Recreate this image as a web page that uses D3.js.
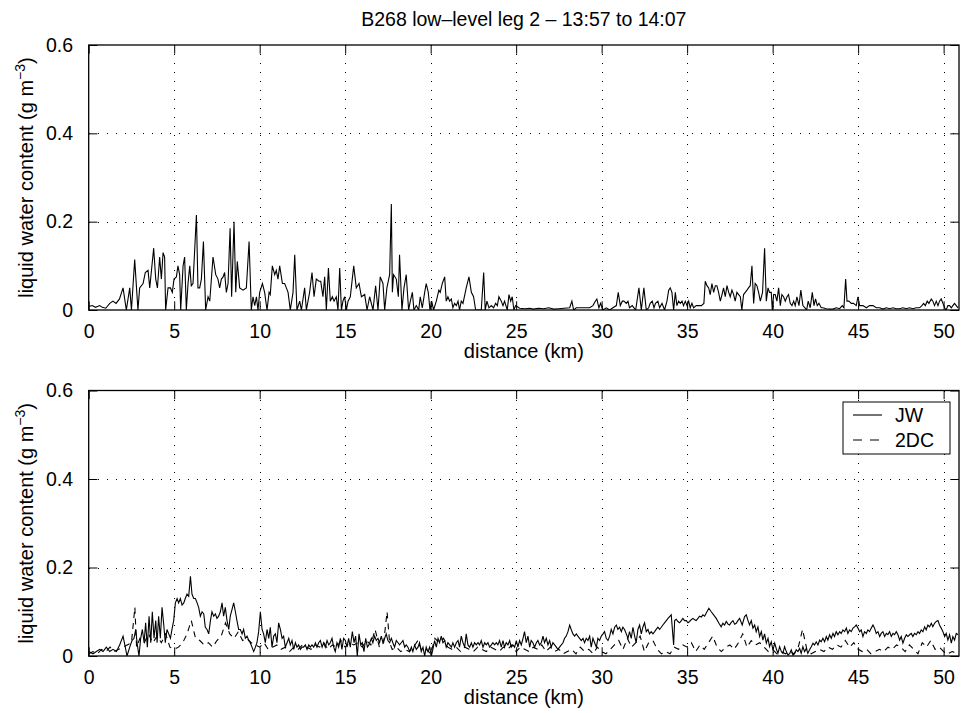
<!DOCTYPE html>
<html><head><meta charset="utf-8">
<script src="https://cdn.jsdelivr.net/npm/d3@7"></script>
<style>
html,body{margin:0;padding:0;background:#fff;}
svg text{font-family:"Liberation Sans",Arial,Helvetica,sans-serif;fill:#000;}
</style></head>
<body><svg id="chart" width="972" height="713"></svg>
<script>
const titleText = "B268 low\u2013level leg 2 \u2013 13:57 to 14:07";
const xTicks = [0,5,10,15,20,25,30,35,40,45,50];
const yTicks = [0,0.2,0.4,0.6];
const xLabelText = "distance (km)";
const legendNames = ["JW","2DC"];

// upper panel: JW liquid water content
const topKm = [0,0.2,0.4,0.64,0.8,1.0,1.23,1.42,1.6,1.8,2.01,2.2,2.4,2.5,2.69,2.88,2.98,3.18,3.31,3.47,3.57,3.8,3.92,4.02,4.15,4.25,4.35,4.44,4.5,4.64,4.78,4.89,4.99,5.13,5.22,5.32,5.38,5.52,5.61,5.71,5.81,5.91,6.0,6.1,6.3,6.39,6.49,6.59,6.71,6.84,6.98,7.08,7.27,7.43,7.56,7.66,7.76,7.86,7.95,8.05,8.15,8.27,8.36,8.5,8.6,8.69,8.83,9.03,9.22,9.38,9.51,9.61,9.71,9.81,9.9,10.0,10.16,10.29,10.43,10.55,10.62,10.74,10.88,10.97,11.07,11.17,11.33,11.46,11.56,11.66,11.79,11.95,12.05,12.18,12.34,12.44,12.63,12.73,12.92,13.06,13.18,13.31,13.47,13.57,13.7,13.8,13.9,14.02,14.13,14.25,14.35,14.48,14.58,14.68,14.78,14.87,14.97,15.07,15.17,15.3,15.5,15.65,15.81,15.95,16.14,16.28,16.43,16.63,16.78,16.92,17.05,17.21,17.31,17.44,17.6,17.7,17.76,17.83,17.99,18.11,18.18,18.32,18.44,18.57,18.71,18.81,18.93,19.02,19.16,19.3,19.39,19.51,19.65,19.74,19.86,19.96,20.06,20.17,20.33,20.48,20.56,20.68,20.82,20.91,21.01,21.11,21.21,21.3,21.4,21.5,21.6,21.69,21.79,21.89,22.08,22.24,22.38,22.51,22.63,22.77,22.96,23.1,23.19,23.29,23.41,23.55,23.68,23.8,23.9,23.99,24.13,24.23,24.32,24.48,24.58,24.68,24.77,24.87,24.97,25.2,25.5,25.8,26.0,26.3,26.6,26.9,27.2,27.5,27.8,28.13,28.26,28.36,28.52,28.91,29.3,29.49,29.63,29.72,29.84,29.94,30.08,30.27,30.47,30.66,30.86,30.97,31.09,31.21,31.3,31.44,31.54,31.63,31.79,31.89,31.99,32.18,32.32,32.47,32.61,32.75,32.84,32.96,33.06,33.15,33.29,33.39,33.53,33.68,33.82,33.92,34.01,34.11,34.21,34.31,34.4,34.5,34.6,34.7,34.79,34.89,34.99,35.09,35.18,35.28,35.38,35.53,35.69,35.83,35.98,36.06,36.16,36.26,36.35,36.45,36.55,36.65,36.74,36.84,36.94,37.04,37.13,37.23,37.33,37.43,37.52,37.62,37.72,37.81,37.91,38.01,38.11,38.2,38.3,38.4,38.5,38.59,38.69,38.79,38.89,38.98,39.08,39.18,39.28,39.41,39.53,39.63,39.73,39.82,39.92,39.98,40.06,40.15,40.25,40.35,40.45,40.54,40.64,40.74,40.84,40.93,41.03,41.13,41.23,41.32,41.42,41.54,41.65,41.77,41.89,41.99,42.08,42.2,42.32,42.42,42.51,42.61,42.71,42.84,42.94,43.14,43.33,43.53,43.72,43.92,44.07,44.17,44.27,44.35,44.46,44.6,44.73,44.89,44.99,45.09,45.28,45.48,45.67,45.87,46.06,46.26,46.45,46.65,46.84,47.04,47.23,47.43,47.62,47.82,48.01,48.2,48.4,48.59,48.73,48.83,48.93,49.04,49.14,49.28,49.37,49.47,49.57,49.67,49.76,49.86,49.96,50.06,50.15,50.25,50.35,50.45,50.54,50.64,50.74,50.84];
const topLwc = [0.008,0.01,0.006,0.01,0.006,0.004,0.015,0.02,0.015,0.025,0.05,0.0,0.05,0.0,0.114,0.0,0.05,0.06,0.085,0.09,0.05,0.14,0.07,0.05,0.12,0.07,0.13,0.12,0.0,0.05,0.05,0.04,0.07,0.075,0.1,0.08,0.0,0.1,0.12,0.0,0.06,0.1,0.055,0.06,0.215,0.05,0.05,0.07,0.155,0.0,0.03,0.02,0.12,0.08,0.07,0.05,0.07,0.075,0.085,0.04,0.06,0.185,0.03,0.2,0.04,0.11,0.05,0.045,0.05,0.155,0.0,0.03,0.01,0.03,0.0,0.04,0.06,0.04,0.0,0.04,0.035,0.1,0.08,0.09,0.07,0.1,0.06,0.06,0.05,0.04,0.0,0.04,0.125,0.0,0.02,0.0,0.05,0.0,0.04,0.085,0.03,0.07,0.065,0.065,0.03,0.075,0.0,0.095,0.02,0.03,0.02,0.03,0.0,0.095,0.0,0.02,0.03,0.0,0.02,0.03,0.1,0.05,0.06,0.03,0.035,0.0,0.03,0.0,0.055,0.0,0.075,0.06,0.0,0.05,0.08,0.24,0.04,0.08,0.07,0.03,0.125,0.0,0.05,0.08,0.0,0.02,0.04,0.0,0.01,0.0,0.03,0.005,0.04,0.06,0.04,0.0,0.02,0.0,0.02,0.045,0.04,0.06,0.075,0.02,0.03,0.02,0.025,0.005,0.015,0.01,0.02,0.0,0.02,0.015,0.05,0.075,0.04,0.03,0.0,0.0,0.0,0.085,0.0,0.02,0.005,0.01,0.005,0.015,0.01,0.03,0.02,0.01,0.02,0.0,0.035,0.02,0.03,0.0,0.01,0.004,0.003,0.004,0.002,0.004,0.003,0.005,0.002,0.003,0.004,0.005,0.02,0.0,0.005,0.005,0.005,0.01,0.02,0.025,0.005,0.015,0.0,0.005,0.0,0.005,0.01,0.04,0.01,0.02,0.02,0.015,0.02,0.005,0.01,0.005,0.0,0.05,0.0,0.05,0.0,0.005,0.015,0.02,0.005,0.015,0.02,0.005,0.015,0.0,0.02,0.045,0.05,0.04,0.0,0.04,0.01,0.02,0.015,0.02,0.01,0.02,0.01,0.02,0.005,0.015,0.005,0.01,0.01,0.01,0.015,0.065,0.055,0.05,0.035,0.06,0.04,0.055,0.055,0.04,0.02,0.035,0.05,0.03,0.055,0.04,0.03,0.045,0.035,0.02,0.04,0.035,0.03,0.0,0.035,0.04,0.045,0.05,0.055,0.1,0.015,0.06,0.055,0.04,0.02,0.04,0.14,0.02,0.05,0.04,0.04,0.0,0.035,0.035,0.02,0.05,0.01,0.035,0.03,0.02,0.03,0.035,0.015,0.01,0.02,0.01,0.03,0.01,0.045,0.01,0.005,0.0,0.02,0.005,0.04,0.01,0.025,0.01,0.015,0.005,0.005,0.003,0.002,0.002,0.005,0.003,0.01,0.005,0.07,0.02,0.02,0.015,0.015,0.01,0.03,0.01,0.01,0.005,0.01,0.01,0.005,0.005,0.002,0.005,0.003,0.005,0.003,0.003,0.005,0.003,0.005,0.003,0.005,0.005,0.01,0.015,0.01,0.02,0.015,0.025,0.02,0.01,0.02,0.01,0.02,0.025,0.015,0.005,0.0,0.01,0.01,0.005,0.01,0.015,0.01,0.005];

// lower panel: JW probe
const jwKm = [0,0.25,0.45,0.64,0.84,1.03,1.23,1.42,1.62,1.81,2.01,2.14,2.24,2.4,2.53,2.65,2.75,2.83,2.94,3.04,3.14,3.24,3.33,3.43,3.53,3.63,3.72,3.82,3.92,4.0,4.09,4.19,4.29,4.39,4.48,4.58,4.68,4.78,4.87,4.97,5.07,5.17,5.26,5.36,5.46,5.56,5.65,5.75,5.85,5.95,6.04,6.14,6.24,6.34,6.43,6.53,6.63,6.73,6.82,6.92,7.02,7.12,7.21,7.31,7.41,7.5,7.6,7.7,7.8,7.89,7.99,8.09,8.19,8.28,8.38,8.48,8.58,8.67,8.77,8.87,8.97,9.06,9.16,9.26,9.36,9.45,9.55,9.65,9.75,9.84,9.94,10.04,10.14,10.23,10.33,10.43,10.53,10.62,10.72,10.82,10.92,11.01,11.11,11.21,11.31,11.4,11.5,11.6,11.7,11.79,11.89,11.99,12.09,12.18,12.28,12.38,12.48,12.57,12.67,12.77,12.87,12.96,13.06,13.16,13.26,13.35,13.45,13.55,13.65,13.74,13.84,13.94,14.04,14.13,14.23,14.33,14.42,14.52,14.62,14.72,14.81,14.91,15.01,15.11,15.2,15.3,15.42,15.52,15.61,15.71,15.81,15.91,16.0,16.1,16.2,16.3,16.39,16.53,16.62,16.72,16.82,16.92,17.01,17.11,17.21,17.31,17.4,17.5,17.6,17.7,17.79,17.89,17.99,18.09,18.18,18.28,18.38,18.48,18.57,18.67,18.77,18.87,18.96,19.06,19.16,19.26,19.35,19.45,19.55,19.65,19.74,19.84,19.94,20.04,20.13,20.23,20.33,20.43,20.52,20.62,20.72,20.82,20.91,21.01,21.11,21.21,21.3,21.4,21.5,21.6,21.69,21.79,21.89,21.99,22.08,22.18,22.28,22.38,22.47,22.57,22.67,22.77,22.86,22.96,23.06,23.16,23.25,23.35,23.45,23.55,23.64,23.74,23.84,23.93,24.03,24.13,24.23,24.32,24.42,24.52,24.62,24.71,24.81,24.91,25.01,25.1,25.2,25.3,25.4,25.49,25.59,25.69,25.79,25.88,25.98,26.08,26.18,26.27,26.37,26.47,26.57,26.66,26.76,26.86,26.96,27.05,27.15,27.25,27.35,27.44,27.54,27.64,27.74,27.83,27.93,28.03,28.13,28.22,28.32,28.42,28.52,28.61,28.71,28.81,28.91,29.0,29.1,29.2,29.3,29.39,29.49,29.59,29.69,29.78,29.88,29.98,30.08,30.17,30.27,30.37,30.47,30.56,30.66,30.76,30.86,30.95,31.05,31.15,31.24,31.34,31.44,31.54,31.63,31.73,31.83,31.93,32.02,32.12,32.22,32.32,32.41,32.51,32.61,32.71,32.8,32.9,33.0,33.1,33.19,33.29,33.39,33.49,33.58,33.68,33.78,33.88,34.07,34.21,34.27,34.36,34.46,34.56,34.66,34.75,34.85,34.95,35.05,35.14,35.24,35.34,35.44,35.53,35.63,35.73,35.83,35.92,36.02,36.12,36.27,36.41,36.55,36.7,36.86,36.99,37.09,37.19,37.29,37.39,37.48,37.58,37.68,37.78,37.87,37.97,38.07,38.22,38.36,38.46,38.56,38.65,38.75,38.85,38.95,39.04,39.14,39.24,39.34,39.43,39.53,39.63,39.73,39.82,39.92,40.02,40.12,40.21,40.31,40.41,40.51,40.6,40.7,40.8,40.9,41.0,41.09,41.19,41.29,41.38,41.48,41.58,41.67,41.77,41.87,41.97,42.06,42.16,42.26,42.36,42.45,42.55,42.65,42.75,42.84,42.94,43.04,43.14,43.23,43.33,43.43,43.53,43.62,43.72,43.82,43.92,44.01,44.11,44.21,44.31,44.4,44.5,44.6,44.7,44.79,44.89,44.99,45.09,45.18,45.28,45.38,45.48,45.57,45.67,45.77,45.87,45.96,46.06,46.16,46.26,46.35,46.45,46.55,46.65,46.74,46.84,46.94,47.04,47.13,47.23,47.33,47.43,47.52,47.62,47.72,47.82,47.91,48.01,48.11,48.2,48.3,48.4,48.5,48.59,48.69,48.79,48.89,48.98,49.08,49.18,49.28,49.37,49.47,49.57,49.67,49.76,49.86,49.96,50.06,50.15,50.25,50.35,50.45,50.54,50.64,50.74,50.84];
const jwLwc = [0.01,0.005,0.01,0.015,0.01,0.02,0.01,0.015,0.01,0.025,0.045,0.02,0.0,0.02,0.035,0.04,0.06,0.03,0.0,0.04,0.06,0.03,0.075,0.02,0.09,0.03,0.1,0.04,0.08,0.03,0.09,0.04,0.11,0.07,0.03,0.06,0.05,0.04,0.06,0.08,0.12,0.13,0.12,0.13,0.115,0.12,0.13,0.14,0.135,0.18,0.14,0.13,0.13,0.12,0.11,0.09,0.1,0.095,0.065,0.06,0.05,0.08,0.1,0.09,0.095,0.085,0.09,0.1,0.12,0.09,0.11,0.08,0.06,0.09,0.105,0.12,0.1,0.08,0.06,0.06,0.05,0.06,0.04,0.045,0.035,0.03,0.02,0.01,0.02,0.03,0.055,0.1,0.06,0.05,0.03,0.06,0.04,0.065,0.02,0.045,0.05,0.03,0.075,0.06,0.04,0.045,0.02,0.03,0.04,0.025,0.035,0.015,0.03,0.02,0.025,0.015,0.02,0.02,0.025,0.015,0.025,0.02,0.025,0.02,0.03,0.02,0.03,0.035,0.02,0.03,0.02,0.035,0.025,0.03,0.04,0.02,0.01,0.03,0.02,0.04,0.015,0.04,0.035,0.02,0.04,0.02,0.055,0.03,0.045,0.0,0.05,0.025,0.03,0.01,0.04,0.02,0.025,0.04,0.03,0.045,0.035,0.04,0.03,0.045,0.03,0.04,0.05,0.035,0.03,0.04,0.03,0.02,0.035,0.03,0.025,0.03,0.035,0.02,0.025,0.02,0.01,0.02,0.01,0.025,0.015,0.02,0.03,0.01,0.02,0.0,0.02,0.01,0.02,0.0,0.015,0.035,0.02,0.04,0.03,0.045,0.03,0.035,0.02,0.03,0.025,0.02,0.03,0.02,0.03,0.035,0.02,0.045,0.03,0.02,0.05,0.025,0.02,0.03,0.02,0.03,0.025,0.03,0.025,0.035,0.02,0.03,0.025,0.03,0.02,0.025,0.03,0.025,0.03,0.025,0.035,0.02,0.035,0.02,0.03,0.025,0.035,0.02,0.025,0.02,0.035,0.02,0.035,0.025,0.04,0.055,0.03,0.045,0.02,0.035,0.03,0.02,0.03,0.035,0.025,0.03,0.045,0.03,0.04,0.025,0.035,0.02,0.03,0.025,0.02,0.015,0.02,0.025,0.03,0.04,0.045,0.055,0.07,0.06,0.05,0.045,0.05,0.045,0.04,0.035,0.04,0.03,0.04,0.035,0.045,0.02,0.04,0.03,0.02,0.04,0.035,0.045,0.05,0.055,0.04,0.035,0.045,0.06,0.05,0.065,0.07,0.06,0.065,0.055,0.065,0.06,0.05,0.04,0.055,0.04,0.065,0.045,0.03,0.06,0.07,0.05,0.065,0.075,0.055,0.06,0.05,0.055,0.05,0.055,0.06,0.065,0.06,0.065,0.07,0.075,0.08,0.085,0.093,0.025,0.08,0.083,0.078,0.075,0.08,0.085,0.08,0.08,0.075,0.078,0.082,0.085,0.082,0.08,0.085,0.09,0.088,0.093,0.09,0.097,0.108,0.1,0.093,0.085,0.074,0.066,0.074,0.07,0.078,0.072,0.07,0.076,0.08,0.072,0.074,0.08,0.085,0.07,0.089,0.093,0.08,0.07,0.08,0.063,0.07,0.055,0.066,0.044,0.055,0.036,0.05,0.029,0.04,0.021,0.032,0.014,0.029,0.017,0.006,0.021,0.01,0.006,0.021,0.01,0.002,0.006,0.014,0.002,0.006,0.014,0.01,0.017,0.006,0.021,0.01,0.017,0.006,0.014,0.021,0.029,0.025,0.032,0.025,0.036,0.032,0.04,0.032,0.044,0.036,0.048,0.04,0.051,0.044,0.055,0.048,0.055,0.051,0.059,0.055,0.063,0.051,0.059,0.055,0.063,0.066,0.07,0.063,0.055,0.059,0.044,0.055,0.051,0.059,0.055,0.063,0.07,0.063,0.051,0.055,0.044,0.051,0.055,0.044,0.051,0.048,0.055,0.044,0.051,0.048,0.055,0.048,0.036,0.044,0.029,0.04,0.048,0.044,0.048,0.051,0.044,0.051,0.048,0.055,0.051,0.059,0.055,0.066,0.059,0.07,0.066,0.074,0.066,0.074,0.078,0.08,0.07,0.063,0.055,0.044,0.051,0.036,0.048,0.029,0.044,0.036,0.051,0.048];

// lower panel: 2DC probe
const dcKm = [0,0.25,0.5,0.75,1.0,1.25,1.5,1.75,2.0,2.25,2.5,2.7,2.8,3.0,3.25,3.5,3.75,4.0,4.25,4.5,4.75,5.0,5.25,5.5,5.75,6.0,6.25,6.5,6.75,7.0,7.25,7.5,7.75,8.0,8.25,8.5,8.75,9.0,9.25,9.5,9.75,10.0,10.25,10.5,10.75,11.0,11.25,11.5,11.75,12.0,12.25,12.5,12.75,13.0,13.25,13.5,13.75,14.0,14.25,14.5,14.75,15.0,15.25,15.5,15.75,16.0,16.25,16.5,16.75,17.0,17.25,17.45,17.6,17.75,18.0,18.25,18.5,18.75,19.0,19.25,19.5,19.75,20.0,20.25,20.5,20.75,21.0,21.25,21.5,21.75,22.0,22.25,22.5,22.75,23.0,23.25,23.5,23.75,24.0,24.25,24.5,24.75,25.0,25.25,25.5,25.75,26.0,26.25,26.5,26.75,27.0,27.25,27.5,27.75,28.0,28.25,28.5,28.75,29.0,29.25,29.5,29.75,30.0,30.25,30.5,30.75,31.0,31.25,31.5,31.75,32.0,32.25,32.5,32.75,33.0,33.25,33.5,33.75,34.0,34.25,34.5,34.75,35.0,35.25,35.5,35.75,36.0,36.25,36.5,36.75,37.0,37.25,37.5,37.75,38.0,38.25,38.5,38.75,39.0,39.25,39.5,39.75,40.0,40.25,40.5,40.75,41.0,41.25,41.5,41.75,42.0,42.25,42.5,42.75,43.0,43.25,43.5,43.75,44.0,44.25,44.5,44.75,45.0,45.25,45.5,45.75,46.0,46.25,46.5,46.75,47.0,47.25,47.5,47.75,48.0,48.25,48.5,48.75,49.0,49.25,49.5,49.75,50.0,50.25,50.5,50.85];
const dcLwc = [0.005,0.01,0.005,0.015,0.01,0.02,0.01,0.015,0.02,0.025,0.03,0.11,0.02,0.04,0.03,0.05,0.03,0.045,0.03,0.05,0.02,0.015,0.02,0.03,0.05,0.08,0.04,0.035,0.025,0.03,0.02,0.035,0.045,0.075,0.05,0.04,0.055,0.035,0.04,0.03,0.025,0.02,0.03,0.015,0.02,0.025,0.015,0.02,0.01,0.02,0.015,0.025,0.02,0.015,0.025,0.02,0.03,0.015,0.025,0.02,0.035,0.02,0.03,0.025,0.03,0.02,0.035,0.025,0.06,0.02,0.03,0.1,0.03,0.015,0.02,0.01,0.015,0.01,0.02,0.035,0.01,0.015,0.005,0.04,0.03,0.04,0.02,0.015,0.02,0.01,0.02,0.015,0.01,0.02,0.015,0.01,0.02,0.015,0.01,0.02,0.015,0.025,0.01,0.02,0.015,0.01,0.02,0.015,0.025,0.01,0.02,0.01,0.015,0.005,0.01,0.015,0.005,0.02,0.01,0.015,0.005,0.02,0.01,0.005,0.015,0.025,0.035,0.015,0.04,0.02,0.03,0.045,0.01,0.03,0.035,0.015,0.005,0.01,0.005,0.02,0.015,0.025,0.02,0.03,0.01,0.025,0.015,0.03,0.045,0.02,0.01,0.02,0.025,0.015,0.03,0.05,0.02,0.035,0.025,0.03,0.02,0.01,0.015,0.005,0.01,0.005,0.01,0.005,0.02,0.06,0.015,0.005,0.01,0.015,0.01,0.02,0.015,0.025,0.02,0.035,0.02,0.03,0.015,0.01,0.015,0.005,0.01,0.015,0.01,0.02,0.015,0.025,0.02,0.01,0.025,0.015,0.005,0.03,0.02,0.035,0.015,0.02,0.01,0.005,0.01,0.005];

const svg = d3.select("#chart");
const X0 = 88.7, X1 = 959;
const xDomainMax = 50.9;
const panels = [
  {top:45, bottom:310, series:[{km:topKm, v:topLwc, dash:null}], legend:false},
  {top:390.5, bottom:656, series:[{km:jwKm, v:jwLwc, dash:null},{km:dcKm, v:dcLwc, dash:"6,5"}], legend:true}
];
const tickLen = 8.7;
const fontSize = 19.5;

svg.append("text").attr("x",(X0+X1)/2).attr("y",26).attr("text-anchor","middle")
  .attr("font-size",fontSize).text(titleText);

panels.forEach((p,i)=>{
  const x = d3.scaleLinear().domain([0,xDomainMax]).range([X0,X1]);
  const y = d3.scaleLinear().domain([0,0.6]).range([p.bottom,p.top]);
  const g = svg.append("g");
  const clipId = "clip"+i;
  svg.append("clipPath").attr("id",clipId).append("rect")
    .attr("x",X0).attr("y",p.top).attr("width",X1-X0).attr("height",p.bottom-p.top);

  // grid
  const grid = g.append("g").attr("stroke","#000").attr("stroke-width",1)
    .attr("stroke-dasharray","1,8").attr("shape-rendering","crispEdges");
  xTicks.forEach(t=>{ if(t>0) grid.append("line").attr("x1",Math.round(x(t))+0.5).attr("x2",Math.round(x(t))+0.5).attr("y1",p.top).attr("y2",p.bottom); });
  yTicks.forEach(t=>{ if(t>0 && t<0.6) grid.append("line").attr("y1",Math.round(y(t))+0.5).attr("y2",Math.round(y(t))+0.5).attr("x1",X0).attr("x2",X1); });

  // data
  const line = d3.line().x(d=>x(d[0])).y(d=>y(d[1]));
  p.series.forEach(s=>{
    const pts = s.km.map((k,j)=>[k,s.v[j]]);
    const path = g.append("path").attr("clip-path","url(#"+clipId+")").datum(pts).attr("d",line)
      .attr("fill","none").attr("stroke","#000").attr("stroke-width",1.1).attr("stroke-linejoin","miter");
    if(s.dash) path.attr("stroke-dasharray",s.dash);
  });

  // axes
  const fmtY = d => d===0 ? "0" : d3.format(".1f")(d);
  const xb = d3.axisBottom(x).tickValues(xTicks).tickSizeInner(-tickLen).tickSizeOuter(0).tickPadding(tickLen+5).tickFormat(d3.format("d"));
  const xt = d3.axisTop(x).tickValues(xTicks).tickSizeInner(-tickLen).tickSizeOuter(0).tickFormat("");
  const yl = d3.axisLeft(y).tickValues(yTicks).tickSizeInner(-tickLen).tickSizeOuter(0).tickPadding(tickLen+7).tickFormat(fmtY);
  const yr = d3.axisRight(y).tickValues(yTicks).tickSizeInner(-tickLen).tickSizeOuter(0).tickFormat("");
  const axes = [
    g.append("g").attr("transform",`translate(0,${p.bottom})`).call(xb),
    g.append("g").attr("transform",`translate(0,${p.top})`).call(xt),
    g.append("g").attr("transform",`translate(${X0},0)`).call(yl),
    g.append("g").attr("transform",`translate(${X1},0)`).call(yr)
  ];
  axes.forEach(a=>{
    a.select(".domain").remove();
    a.selectAll(".tick line").attr("stroke","#000").attr("stroke-width",1);
    a.selectAll(".tick text").attr("font-size",fontSize).attr("font-family","Liberation Sans, Arial, sans-serif").attr("fill","#000");
  });
  // frame
  g.append("rect").attr("x",X0).attr("y",p.top).attr("width",X1-X0).attr("height",p.bottom-p.top)
    .attr("fill","none").attr("stroke","#000").attr("stroke-width",1.3);

  // labels
  g.append("text").attr("x",(X0+X1)/2).attr("y",p.bottom+48).attr("text-anchor","middle")
    .attr("font-size",fontSize+0.5).text(xLabelText);
  const yt = g.append("text").attr("transform",`translate(33,${(p.top+p.bottom)/2}) rotate(-90)`)
    .attr("text-anchor","middle").attr("font-size",fontSize+0.5);
  yt.append("tspan").text("liquid water content (g m");
  yt.append("tspan").attr("dy",-8).attr("font-size",14).text("\u22123");
  yt.append("tspan").attr("dy",8).text(")");

  if(p.legend){
    const lg = g.append("g");
    lg.append("rect").attr("x",843).attr("y",402).attr("width",107).attr("height",52)
      .attr("fill","#fff").attr("stroke","#000").attr("stroke-width",1);
    const rows = [{name:legendNames[0],dash:null,yy:415},{name:legendNames[1],dash:"9,8",yy:440}];
    rows.forEach(r=>{
      const l = lg.append("line").attr("x1",853).attr("x2",882).attr("y1",r.yy).attr("y2",r.yy)
        .attr("stroke","#000").attr("stroke-width",1.1);
      if(r.dash) l.attr("stroke-dasharray",r.dash);
      lg.append("text").attr("x",895).attr("y",r.yy+6.5).attr("font-size",fontSize).text(r.name);
    });
  }
});
</script></body></html>
